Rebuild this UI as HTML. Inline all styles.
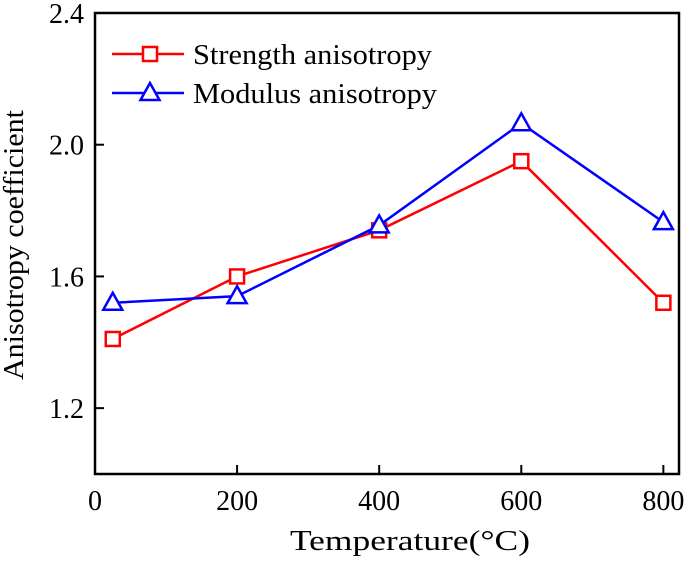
<!DOCTYPE html>
<html><head><meta charset="utf-8"><style>
body{margin:0;background:#fff}
text{font-family:"Liberation Serif",serif;fill:#000}
</style></head><body>
<svg id="c" width="685" height="556" xmlns="http://www.w3.org/2000/svg"></svg>
<script>
const xTicks=[0,200,400,600,800];
const yTicks=[1.2,1.6,2.0,2.4];
const yTickLabels=["1.2","1.6","2.0","2.4"];
const temps=[25,200,400,600,800];
const strength=[1.41,1.60,1.74,1.95,1.52];
const modulus=[1.52,1.54,1.755,2.065,1.765];
const L=95,R=679,T=13,B=474,xMin=0,xMax=822,yMin=1.0,yMax=2.4;
const sx=v=>L+(v-xMin)/(xMax-xMin)*(R-L);
const sy=v=>B-(v-yMin)/(yMax-yMin)*(B-T);
const svg=document.getElementById('c');
const NS='http://www.w3.org/2000/svg';
function mk(t,a,p){const e=document.createElementNS(NS,t);for(const k in a)e.setAttribute(k,a[k]);(p||svg).appendChild(e);return e;}
let e;
e=mk('rect',{x:L,y:T,width:R-L,height:B-T,fill:'none',stroke:'#000','stroke-width':2.5});


xTicks.forEach(v=>{
 e=mk('line',{x1:sx(v),x2:sx(v),y1:B,y2:B-9,stroke:'#000','stroke-width':2});
 
 
 e=mk('text',{x:sx(v),y:510,'text-anchor':'middle','font-size':28});
 e.textContent=v;
 
 
});
yTicks.forEach((v,i)=>{
 e=mk('line',{x1:L,x2:L+9,y1:sy(v),y2:sy(v),stroke:'#000','stroke-width':2});
 
 
 e=mk('text',{x:84,y:sy(v)+10,'text-anchor':'end','font-size':28});
 e.textContent=yTickLabels[i];
 
 
});
e=mk('text',{x:410,y:550,'text-anchor':'middle','font-size':29,textLength:240,lengthAdjust:'spacingAndGlyphs'});
e.textContent='Temperature(°C)';


e=mk('text',{x:0,y:0,'text-anchor':'middle','font-size':29,textLength:270,lengthAdjust:'spacingAndGlyphs',transform:'translate(23,245) rotate(-90)'});
e.textContent='Anisotropy coefficient';


function marker(x,y,kind,col,g){
 if(kind==='sq') return mk('rect',{x:x-7,y:y-7,width:14,height:14,fill:'#fff',stroke:col,'stroke-width':2.5},g);
 return mk('polygon',{points:`${x},${y-10} ${x-9.5},${y+7} ${x+9.5},${y+7}`,fill:'#fff',stroke:col,'stroke-width':2.5},g);
}
function series(vals,col,kind,name){
 const g=mk('g',{});
 
 
 e=mk('polyline',{points:temps.map((t,i)=>sx(t)+','+sy(vals[i])).join(' '),fill:'none',stroke:col,'stroke-width':2.5},g);
 
 
 temps.forEach((t,i)=>{
  e=marker(sx(t),sy(vals[i]),kind,col,g);
  
  
 });
}
series(strength,'#ff0000','sq','strength-series');
series(modulus,'#0000ff','tri','modulus-series');
[['Strength anisotropy','#ff0000','sq',54,239],['Modulus anisotropy','#0000ff','tri',93,244]].forEach(([lab,col,k,y,w])=>{
 const g=mk('g',{});
 
 
 mk('line',{x1:112,x2:184,y1:y,y2:y,stroke:col,'stroke-width':2.5},g);
 marker(150,y,k,col,g);
 const t=mk('text',{x:193,y:y+10,'font-size':28,textLength:w,lengthAdjust:'spacingAndGlyphs'},g);
 t.textContent=lab;
});
</script>
</body></html>
